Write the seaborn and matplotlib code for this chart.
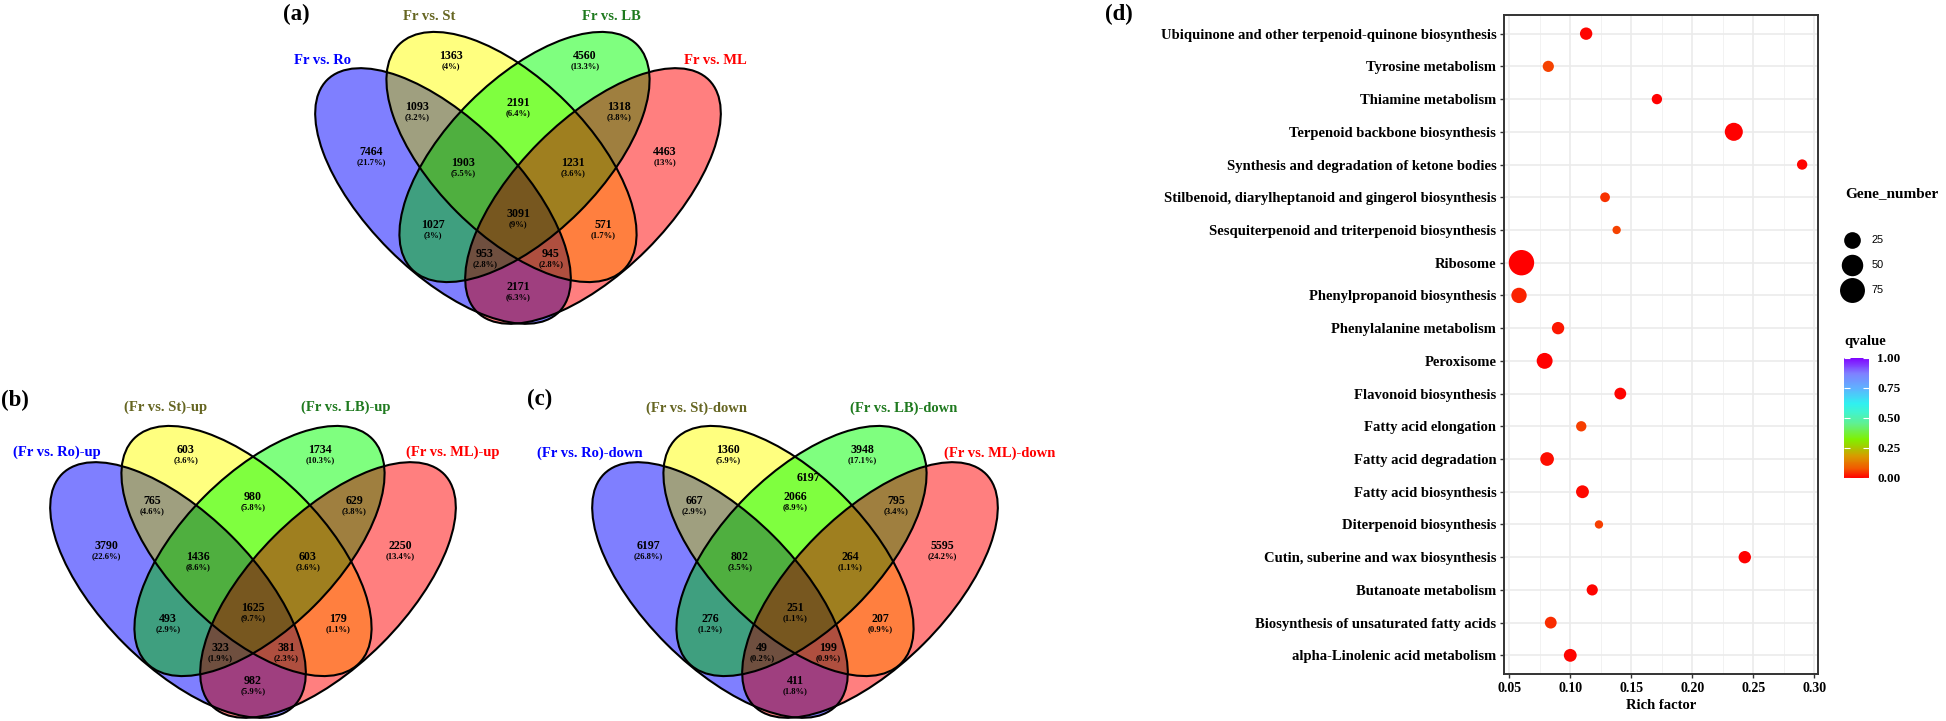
import numpy as np
import pandas as pd
import matplotlib
matplotlib.use("Agg")
import matplotlib.pyplot as plt
import seaborn as sns
from matplotlib.patches import Ellipse
from matplotlib.colors import LinearSegmentedColormap, Normalize, to_rgb
from matplotlib.cm import ScalarMappable
from matplotlib.ticker import FormatStrFormatter

# ---------------- DATA ----------------
# Venn region order:
# Ro, St, LB, ML, Ro&St, St&LB, LB&ML, Ro&St&LB, St&LB&ML, Ro&LB, St&ML, all, Ro&LB&ML, Ro&St&ML, Ro&ML
names_a = ["Fr vs. Ro", "Fr vs. St", "Fr vs. LB", "Fr vs. ML"]
counts_a = [7464, 1363, 4560, 4463, 1093, 2191, 1318, 1903, 1231, 1027, 571, 3091, 953, 945, 2171]
pct_a = [21.7, 4, 13.3, 13, 3.2, 6.4, 3.8, 5.5, 3.6, 3, 1.7, 9, 2.8, 2.8, 6.3]

names_b = ["(Fr vs. Ro)-up", "(Fr vs. St)-up", "(Fr vs. LB)-up", "(Fr vs. ML)-up"]
counts_b = [3790, 603, 1734, 2250, 765, 980, 629, 1436, 603, 493, 179, 1625, 323, 381, 982]
pct_b = [22.6, 3.6, 10.3, 13.4, 4.6, 5.8, 3.8, 8.6, 3.6, 2.9, 1.1, 9.7, 1.9, 2.3, 5.9]

names_c = ["(Fr vs. Ro)-down", "(Fr vs. St)-down", "(Fr vs. LB)-down", "(Fr vs. ML)-down"]
counts_c = [6197, 1360, 3948, 5595, 667, 2066, 795, 802, 264, 276, 207, 251, 49, 199, 411]
pct_c = [26.8, 5.9, 17.1, 24.2, 2.9, 8.9, 3.4, 3.5, 1.1, 1.2, 0.9, 1.1, 0.2, 0.9, 1.8]
stray_c = "6197"

pathways = [
    "Ubiquinone and other terpenoid-quinone biosynthesis",
    "Tyrosine metabolism",
    "Thiamine metabolism",
    "Terpenoid backbone biosynthesis",
    "Synthesis and degradation of ketone bodies",
    "Stilbenoid, diarylheptanoid and gingerol biosynthesis",
    "Sesquiterpenoid and triterpenoid biosynthesis",
    "Ribosome",
    "Phenylpropanoid biosynthesis",
    "Phenylalanine metabolism",
    "Peroxisome",
    "Flavonoid biosynthesis",
    "Fatty acid elongation",
    "Fatty acid degradation",
    "Fatty acid biosynthesis",
    "Diterpenoid biosynthesis",
    "Cutin, suberine and wax biosynthesis",
    "Butanoate metabolism",
    "Biosynthesis of unsaturated fatty acids",
    "alpha-Linolenic acid metabolism",
]
rich_factor = [0.113, 0.082, 0.171, 0.234, 0.290, 0.1285, 0.138, 0.060, 0.058, 0.090,
               0.079, 0.141, 0.109, 0.081, 0.110, 0.1235, 0.243, 0.118, 0.084, 0.100]
gene_number = [12, 10, 9, 31, 9, 8.5, 8, 79, 20, 12,
               22, 11, 9, 15, 13, 8, 12, 10, 11, 13]
qvalue = [0.005, 0.06, 0.003, 0.001, 0.004, 0.045, 0.06, 0.0, 0.035, 0.02,
          0.003, 0.005, 0.055, 0.012, 0.01, 0.055, 0.002, 0.006, 0.04, 0.005]
size_breaks = [25, 50, 75]
q_breaks = [0.0, 0.25, 0.5, 0.75, 1.0]

# ---------------- STYLE ----------------
plt.rcParams["font.family"] = ["Liberation Serif", "DejaVu Serif"]
plt.rcParams["font.weight"] = "bold"
plt.rcParams["axes.labelweight"] = "bold"

W, H = 1946, 721
fig = plt.figure(figsize=(W / 100, H / 100), dpi=100)

# overlay axes in pixel coordinates for the Venn diagrams
vax = fig.add_axes([0, 0, 1, 1])
vax.axis("off")

# ellipse template relative to (centre x, top y): dx, dy, width, height, angle, colour
ELL = [(-75, 166, 328, 152, 45, "#0000FF"),
       (-6.5, 127, 318, 155, 45, "#FFFF00"),
       (6.5, 127, 318, 155, -45, "#00FF00"),
       (75, 166, 328, 152, -45, "#FF0000")]
LBL = [(-147, 122), (-67, 26), (67, 26), (147, 122),
       (-101, 77), (0, 73), (101, 77),
       (-55, 133), (55, 133),
       (-85, 195), (85, 195),
       (0, 184),
       (-33, 224), (33, 224),
       (0, 257)]
NAME_COLORS = ["#0000FF", "#666622", "#1F7A1F", "#FF0000"]


def venn_fill(cx, top):
    x0, x1 = cx - 215, cx + 215
    y0, y1 = top - 5, top + 300
    ss = 2
    xs = np.arange(x0, x1, 1 / ss) + 0.5 / ss
    ys = np.arange(y0, y1, 1 / ss) + 0.5 / ss
    X, Y = np.meshgrid(xs, ys)
    over = np.ones(X.shape + (3,))
    mult = np.ones(X.shape + (3,))
    anym = np.zeros(X.shape, dtype=bool)
    for dx, dy, w, h, ang, col in ELL:
        t = np.deg2rad(ang)
        ddx = X - (cx + dx)
        ddy = Y - (top + dy)
        u = ddx * np.cos(t) + ddy * np.sin(t)
        v = -ddx * np.sin(t) + ddy * np.cos(t)
        m = (u / (w / 2)) ** 2 + (v / (h / 2)) ** 2 <= 1
        c = np.array(to_rgb(col))
        over[m] = 0.5 * over[m] + 0.5 * c
        mult[m] = mult[m] * (0.5 + 0.5 * c)
        anym |= m
    rgb = 0.5 * over + 0.5 * mult
    img = np.dstack([rgb, anym.astype(float)])
    vax.imshow(img, extent=(x0, x1, y1, y0), origin="upper", aspect="auto",
               interpolation="antialiased", zorder=1)


def draw_venn(cx, top, counts, pcts, names, name_pos):
    venn_fill(cx, top)
    for dx, dy, w, h, ang, col in ELL:
        vax.add_patch(Ellipse((cx + dx, top + dy), w, h, angle=ang,
                              facecolor="none", edgecolor="black", lw=1.5, zorder=2))
    for (dx, dy), n, p in zip(LBL, counts, pcts):
        vax.text(cx + dx, top + dy, f"{n}", ha="center", va="center",
                 fontsize=8.6, fontweight="bold", zorder=3)
        vax.text(cx + dx, top + dy + 10, f"({p:g}%)", ha="center", va="center",
                 fontsize=6.2, fontweight="bold", zorder=3)
    for (dx, dy), nm, col in zip(name_pos, names, NAME_COLORS):
        vax.text(cx + dx, top + dy, nm, ha="center", va="center", color=col,
                 fontsize=10.5, fontweight="bold", zorder=3)


draw_venn(518, 30, counts_a, pct_a, names_a, [(-195, 30), (-89, -13), (93, -13), (197, 30)])
draw_venn(253, 424, counts_b, pct_b, names_b, [(-196, 28), (-87, -17), (93, -17), (200, 28)])
draw_venn(795, 424, counts_c, pct_c, names_c, [(-205, 29), (-99, -16), (109, -16), (205, 29)])
vax.text(795 + 13, 424 + 54, stray_c, ha="center", va="center", fontsize=8.6,
         fontweight="bold", zorder=3)

for lab, x, y in [("(a)", 296, 14), ("(b)", 15, 400), ("(c)", 540, 399), ("(d)", 1119, 14)]:
    vax.text(x, y, lab, ha="center", va="center", fontsize=16.5, fontweight="bold")

vax.set_xlim(0, W)
vax.set_ylim(H, 0)

# ---------------- DOT PLOT ----------------
cmap = LinearSegmentedColormap.from_list("qv", [
    (0.00, "#FF0000"), (0.08, "#F25A00"), (0.18, "#D89A00"), (0.25, "#A8C800"),
    (0.32, "#80F000"), (0.45, "#60F090"), (0.55, "#40F4D0"), (0.62, "#30F0F0"),
    (0.75, "#60B0FF"), (0.87, "#7F80FF"), (1.00, "#8000FF")])

df = pd.DataFrame({"Pathway": pathways, "RichFactor": rich_factor,
                   "Gene_number": gene_number, "qvalue": qvalue})
gmin, gmax = min(gene_number), max(gene_number)


def diam_px(n):
    s = 1 + 5 * np.sqrt(np.clip((n - gmin) / (gmax - gmin), 0, None))
    return 3.42 * s + 4.9


def area_pt2(n):
    return (diam_px(n) * 0.72) ** 2


size_map = {n: area_pt2(n) for n in sorted(set(gene_number))}

ax = fig.add_axes([1504 / W, (H - 674) / H, 314 / W, 659 / H])
ax.set_facecolor("white")
sns.scatterplot(data=df, x="RichFactor", y="Pathway", size="Gene_number", sizes=size_map,
                hue="qvalue", palette=cmap, hue_norm=(0, 1), linewidth=0,
                legend=False, ax=ax, zorder=3)
n = len(pathways)
ax.set_ylim(n - 1 + 0.57, -0.57)
ax.set_xlim(0.0457, 0.303)
ax.set_xticks(np.arange(0.05, 0.301, 0.05))
ax.set_xticks(np.arange(0.075, 0.30, 0.05), minor=True)
ax.xaxis.set_major_formatter(FormatStrFormatter("%.2f"))
ax.grid(which="major", color="#EBEBEB", lw=1.2, zorder=0)
ax.grid(which="minor", axis="x", color="#F2F2F2", lw=0.7, zorder=0)
ax.set_axisbelow(True)
for sp in ax.spines.values():
    sp.set_color("#333333")
    sp.set_linewidth(1.4)
ax.tick_params(axis="both", which="major", color="#333333", length=3, width=1, pad=2.5)
ax.tick_params(axis="x", which="minor", length=0)
ax.tick_params(axis="y", labelsize=10.5)
ax.tick_params(axis="x", labelsize=10)
for t in ax.get_yticklabels() + ax.get_xticklabels():
    t.set_fontweight("bold")
    t.set_color("black")
ax.set_ylabel("")
ax.set_xlabel("Rich factor", fontsize=10.5, fontweight="bold", labelpad=3)

# size legend
vax.text(1845, 194, "Gene_number", ha="left", va="center", fontsize=11, fontweight="bold")
for yy, b in zip([240, 265, 290], size_breaks):
    vax.scatter([1852], [yy], s=area_pt2(b), color="black", linewidth=0, zorder=5)
    vax.text(1872, yy, str(b), ha="left", va="center", fontsize=7.8,
             fontweight="normal", family="Liberation Sans")

# colour bar
vax.text(1844, 342, "qvalue", ha="left", va="center", fontsize=10.5, fontweight="bold")
cax = fig.add_axes([1844 / W, (H - 481) / H, 25 / W, 127 / H])
cb = fig.colorbar(ScalarMappable(norm=Normalize(0, 1), cmap=cmap), cax=cax)
cb.outline.set_visible(False)
cb.set_ticks(q_breaks)
cax.set_ylim(-0.025, 1.03)
cax.yaxis.set_major_formatter(FormatStrFormatter("%.2f"))
cax.tick_params(axis="y", which="both", direction="in", color="white", length=4,
                width=0.8, left=True, right=True, labelsize=9.5, pad=6)
for t in cax.get_yticklabels():
    t.set_fontweight("bold")

fig.savefig("out.png", dpi=100)
